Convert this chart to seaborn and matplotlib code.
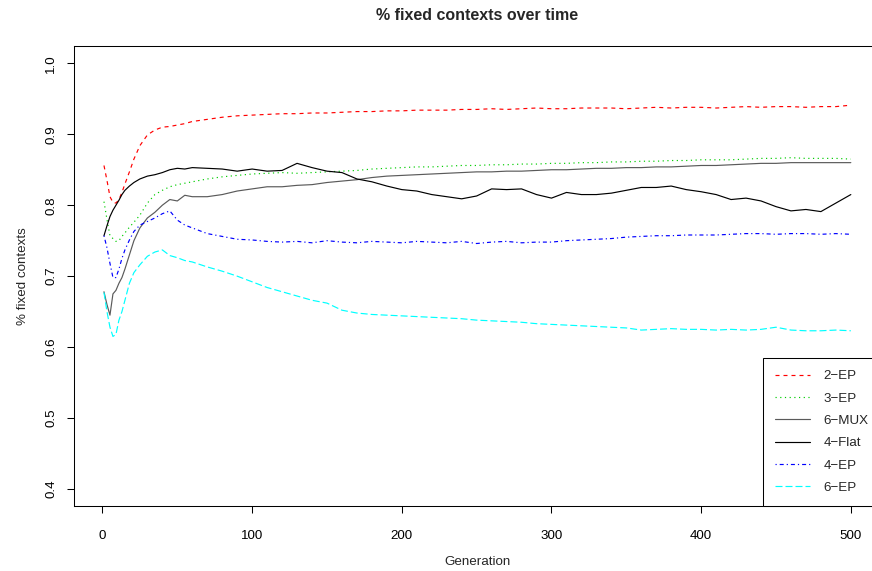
import matplotlib
matplotlib.use("Agg")
import matplotlib.pyplot as plt
import seaborn as sns
import pandas as pd

# ---- data ----
gens = [1, 3, 5, 7, 9, 11, 13, 15, 18, 21, 25, 30, 35, 40, 45, 50, 55, 60,
        70, 80, 90, 100, 110, 120, 130, 140, 150, 160, 170, 180, 190, 200,
        210, 220, 230, 240, 250, 260, 270, 280, 290, 300, 310, 320, 330, 340,
        350, 360, 370, 380, 390, 400, 410, 420, 430, 440, 450, 460, 470, 480,
        490, 500]

ep2 = [0.856, 0.835, 0.812, 0.804, 0.803, 0.808, 0.818, 0.830, 0.847, 0.865,
       0.884, 0.899, 0.906, 0.910, 0.911, 0.913, 0.915, 0.918,
       0.921, 0.924, 0.926, 0.927, 0.928, 0.929, 0.929, 0.930, 0.930, 0.931,
       0.932, 0.932, 0.933, 0.933, 0.934, 0.934, 0.934, 0.935, 0.935, 0.936,
       0.935, 0.936, 0.937, 0.936, 0.936, 0.937, 0.937, 0.937, 0.936, 0.937,
       0.938, 0.937, 0.938, 0.938, 0.937, 0.938, 0.939, 0.938, 0.939, 0.939,
       0.938, 0.939, 0.939, 0.941]

ep3 = [0.805, 0.780, 0.757, 0.753, 0.749, 0.750, 0.756, 0.761, 0.769, 0.776,
       0.786, 0.803, 0.815, 0.821, 0.826, 0.829, 0.831, 0.833,
       0.837, 0.840, 0.842, 0.844, 0.845, 0.846, 0.845, 0.846, 0.847, 0.848,
       0.849, 0.851, 0.852, 0.853, 0.854, 0.854, 0.855, 0.856, 0.856, 0.857,
       0.857, 0.858, 0.858, 0.859, 0.859, 0.860, 0.860, 0.861, 0.861, 0.862,
       0.862, 0.863, 0.863, 0.864, 0.864, 0.864, 0.865, 0.866, 0.866, 0.867,
       0.866, 0.866, 0.866, 0.865]

mux6 = [0.678, 0.660, 0.645, 0.675, 0.680, 0.690, 0.698, 0.710, 0.730, 0.750,
        0.768, 0.782, 0.790, 0.800, 0.808, 0.806, 0.814, 0.812,
        0.812, 0.815, 0.820, 0.823, 0.826, 0.826, 0.828, 0.829, 0.832, 0.834,
        0.836, 0.839, 0.841, 0.842, 0.843, 0.844, 0.845, 0.846, 0.847, 0.847,
        0.848, 0.848, 0.849, 0.850, 0.850, 0.851, 0.852, 0.852, 0.853, 0.853,
        0.854, 0.854, 0.855, 0.856, 0.856, 0.857, 0.858, 0.859, 0.859, 0.860,
        0.860, 0.860, 0.860, 0.860]

flat4 = [0.757, 0.771, 0.784, 0.793, 0.800, 0.807, 0.815, 0.821, 0.827, 0.832,
         0.837, 0.841, 0.843, 0.846, 0.850, 0.852, 0.851, 0.853,
         0.852, 0.851, 0.848, 0.851, 0.848, 0.849, 0.859, 0.853, 0.848, 0.846,
         0.837, 0.833, 0.827, 0.822, 0.820, 0.815, 0.812, 0.809, 0.813, 0.823,
         0.822, 0.823, 0.815, 0.810, 0.818, 0.815, 0.815, 0.817, 0.821, 0.825,
         0.825, 0.827, 0.822, 0.819, 0.815, 0.808, 0.810, 0.806, 0.798, 0.792,
         0.794, 0.791, 0.803, 0.815]

ep4 = [0.757, 0.740, 0.718, 0.698, 0.698, 0.710, 0.725, 0.737, 0.751, 0.763,
       0.772, 0.777, 0.782, 0.788, 0.792, 0.779, 0.772, 0.768,
       0.760, 0.756, 0.752, 0.751, 0.749, 0.748, 0.749, 0.747, 0.750, 0.748,
       0.747, 0.749, 0.748, 0.747, 0.749, 0.748, 0.747, 0.749, 0.746, 0.748,
       0.749, 0.747, 0.748, 0.748, 0.750, 0.751, 0.752, 0.753, 0.755, 0.756,
       0.757, 0.757, 0.758, 0.758, 0.758, 0.759, 0.760, 0.760, 0.759, 0.760,
       0.760, 0.759, 0.760, 0.759]

ep6 = [0.677, 0.650, 0.628, 0.615, 0.618, 0.638, 0.650, 0.666, 0.690, 0.705,
       0.716, 0.728, 0.734, 0.737, 0.729, 0.726, 0.722, 0.720,
       0.713, 0.707, 0.700, 0.692, 0.684, 0.678, 0.672, 0.666, 0.662, 0.652,
       0.648, 0.646, 0.645, 0.644, 0.643, 0.642, 0.641, 0.640, 0.638, 0.637,
       0.636, 0.635, 0.633, 0.632, 0.631, 0.630, 0.629, 0.628, 0.627, 0.624,
       0.625, 0.626, 0.625, 0.625, 0.624, 0.625, 0.624, 0.625, 0.628, 0.624,
       0.623, 0.623, 0.624, 0.623]

series_names = ["2\u2212EP", "3\u2212EP", "6\u2212MUX", "4\u2212Flat", "4\u2212EP", "6\u2212EP"]
x_ticks = [0, 100, 200, 300, 400, 500]
y_ticks = [0.4, 0.5, 0.6, 0.7, 0.8, 0.9, 1.0]
y_tick_labels = ["0.4", "0.5", "0.6", "0.7", "0.8", "0.9", "1.0"]

# ---- styles ----
sns.set_style("white")
plt.rcParams["font.family"] = ["Liberation Sans", "DejaVu Sans"]
plt.rcParams["lines.scale_dashes"] = False
px = 0.72  # one pixel in points at 100 dpi
styles = {
    "2\u2212EP": dict(color="#FF0000", linestyle=(0, (4 * px, 4 * px))),
    "3\u2212EP": dict(color="#00CD00", linestyle=(0, (1.2 * px, 3.5 * px))),
    "6\u2212MUX": dict(color="#5a5a5a", linestyle="-"),
    "4\u2212Flat": dict(color="#000000", linestyle="-"),
    "4\u2212EP": dict(color="#0000FF", linestyle=(0, (1.2 * px, 3 * px, 4 * px, 3 * px))),
    "6\u2212EP": dict(color="#00FFFF", linestyle=(0, (7 * px, 3 * px))),
}

fig = plt.figure(figsize=(8.72, 5.71), dpi=100)
left_px, right_px, top_px, bot_px = 74.1, 880.7, 46.3, 506.0
ax = fig.add_axes([left_px / 872, (571 - bot_px) / 571,
                   (right_px - left_px) / 872, (bot_px - top_px) / 571])

all_vals = [ep2, ep3, mux6, flat4, ep4, ep6]
for name, vals in zip(series_names, all_vals):
    df = pd.DataFrame({"Generation": gens, "value": vals})
    sns.lineplot(data=df, x="Generation", y="value", ax=ax, estimator=None,
                 linewidth=0.85, label=name, **styles[name])

ax.set_xlim(1 - 0.04 * 499, 500 + 0.04 * 499)
ax.set_ylim(0.4 - 0.024, 1.0 + 0.024)
ax.set_xticks(x_ticks)
ax.set_xticklabels([str(t) for t in x_ticks])
ax.set_yticks(y_ticks)
ax.set_yticklabels(y_tick_labels)

fs = 9.6
ax.tick_params(axis="both", which="major", direction="out", length=5,
               width=0.75, color="black", labelsize=fs, labelcolor="black",
               bottom=True, left=True)
ax.tick_params(axis="x", pad=12.5)
ax.tick_params(axis="y", pad=7, labelrotation=90)
for lab in ax.get_yticklabels():
    lab.set_va("center")

for sp in ax.spines.values():
    sp.set_color("black")
    sp.set_linewidth(0.75)
    sp.set_visible(True)

ax.set_xlabel("Generation", fontsize=fs, labelpad=10)
ax.set_ylabel("% fixed contexts", fontsize=fs, labelpad=12)
ax.set_title("% fixed contexts over time", fontsize=11.5, fontweight="bold", pad=19)
ax.grid(False)

leg = ax.legend(loc="lower right", bbox_to_anchor=(1.0, 0.0), borderaxespad=0,
                fontsize=fs, frameon=True, fancybox=False, framealpha=1,
                edgecolor="black", handlelength=2.6, handletextpad=1.05,
                labelspacing=0.75, borderpad=0.9)
leg.get_frame().set_linewidth(0.75)

fig.savefig("out.png", dpi=100)
